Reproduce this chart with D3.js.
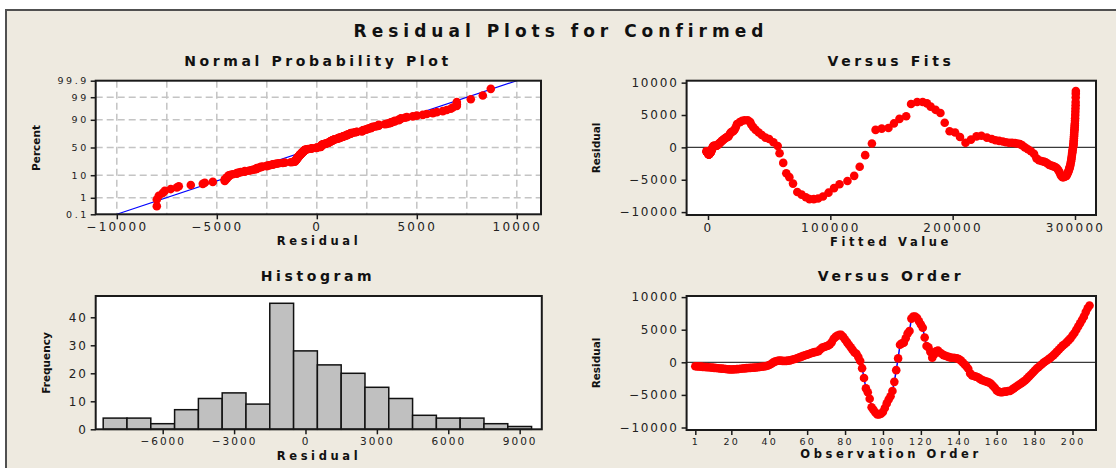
<!DOCTYPE html>
<html><head><meta charset="utf-8">
<script src="https://cdn.jsdelivr.net/npm/d3@7"></script>
<style>body{margin:0;background:#fff}svg{display:block}</style>
</head><body><svg id="c" width="1116" height="468"></svg>
<script>
// ---------- data ----------
const residuals = [
-600,-620,-650,-670,-700,-720,-740,-760,-790,-820,
-850,-880,-910,-940,-970,-1000,-1030,-1060,-1080,-1100,
-1090,-1070,-1050,-1020,-990,-960,-930,-900,-880,-860,
-840,-820,-790,-760,-720,-680,-640,-600,-520,-420,
-250,-50,100,200,250,250,220,200,220,260,
300,380,460,550,650,760,870,980,1080,1180,
1280,1380,1480,1560,1620,1700,2000,2250,2350,2450,
2550,2750,3100,3600,3900,4100,4200,4200,3900,3500,
3100,2700,2300,1900,1500,1300,800,200,-900,-2400,
-4000,-4600,-5600,-6900,-7300,-7700,-8000,-8000,-7900,-7600,
-7000,-6300,-5700,-5200,-4400,-3000,-1200,600,2700,2900,
3000,3700,4400,4800,6700,7000,7000,6800,6300,5800,
5300,3800,2500,2300,1600,700,1200,1700,1800,1500,
1300,1100,1000,900,800,700,700,650,600,500,
300,0,-300,-600,-1000,-1700,-2000,-2100,-2200,-2300,
-2500,-2700,-2800,-2900,-3000,-3100,-3300,-3600,-3900,-4300,
-4500,-4600,-4600,-4500,-4500,-4400,-4400,-4200,-4000,-3800,
-3600,-3400,-3200,-3000,-2800,-2500,-2200,-1900,-1600,-1300,
-1000,-750,-500,-250,0,200,400,600,850,1100,
1400,1700,2000,2300,2600,2800,3100,3400,3700,4100,
4500,5000,5500,6000,6500,7000,7700,8300,8700];
const fittedValues = [
-1200,-1100,-1000,-900,-800,-700,-600,-500,-400,-300,
-200,-100,0,100,200,300,400,500,600,700,
800,900,1000,1100,1200,1300,1400,1500,1600,1700,
1800,1900,2000,2100,2200,2300,2400,2600,2800,3000,
3300,3600,4000,4400,4800,5200,5600,6000,6400,6900,
7400,7900,8400,8900,9500,10100,10700,11300,11900,12500,
13200,13900,14600,15300,16000,16800,17600,18400,19200,20000,
20900,21800,22700,23700,26000,28000,30000,32500,34500,35500,
37000,39000,41500,44000,47000,50000,53500,57000,58500,61500,
64000,66500,69500,73000,76500,80000,83000,86500,90000,94000,
98500,103000,107500,114000,119500,124000,128500,134000,137000,142000,
147500,152000,156500,162000,166000,171000,175500,179000,182000,186000,
190000,193500,197500,202000,206000,210500,215000,219500,223500,228000,
232000,235000,238000,241000,243500,246000,248500,251000,253000,255000,
257000,259000,261500,264000,266500,268500,270500,272500,274500,276000,
277500,279000,280500,282000,283300,284500,285600,286600,287500,288400,
289200,289900,290600,291300,291900,292500,293000,293500,294000,294400,
294800,295200,295500,295800,296100,296400,296700,297000,297200,297400,
297600,297800,298000,298200,298400,298600,298700,298800,298900,299000,
299100,299200,299300,299400,299500,299600,299700,299800,299900,300000,
300100,300200,300300,300400,300500,300550,300600,300650,300700];
const histBinCenters = [-8000,-7000,-6000,-5000,-4000,-3000,-2000,-1000,0,1000,2000,3000,4000,5000,6000,7000,8000,9000];
const histCounts = [4,4,2,7,11,13,9,45,28,23,20,15,11,5,4,4,2,1];
const histBinWidth = 1000;
const probTicks = [0.1,1,10,50,90,99,99.9];
const probGrid = [1,10,50,90,99];
const normXTicks = [-10000,-5000,0,5000,10000];
const normXGrid = [-10000,-7500,-5000,-2500,0,2500,5000,7500,10000];
const normLineX = [-10000,10000];
const normLineP = [0.1,99.9];
const residTicks = [-10000,-5000,0,5000,10000];
const fitsXTicks = [0,100000,200000,300000];
const histXTicks = [-6000,-3000,0,3000,6000,9000];
const histYTicks = [0,10,20,30,40];
const orderXTicks = [1,20,40,60,80,100,120,140,160,180,200];

// ---------- helpers ----------
const FONT = '"DejaVu Sans", Verdana, sans-serif';
function qnorm(p){
  const a=[-3.969683028665376e+01,2.209460984245205e+02,-2.759285104469687e+02,1.383577518672690e+02,-3.066479806614716e+01,2.506628277459239e+00];
  const b=[-5.447609879822406e+01,1.615858368580409e+02,-1.556989798598866e+02,6.680131188771972e+01,-1.328068155288572e+01];
  const c=[-7.784894002430293e-03,-3.223964580411365e-01,-2.400758277161838e+00,-2.549732539343734e+00,4.374664141464968e+00,2.938163982698783e+00];
  const d=[7.784695709041462e-03,3.224671290700398e-01,2.445134137142996e+00,3.754408661907416e+00];
  const pl=0.02425, ph=1-pl; let q,r;
  if(p<pl){q=Math.sqrt(-2*Math.log(p));return (((((c[0]*q+c[1])*q+c[2])*q+c[3])*q+c[4])*q+c[5])/((((d[0]*q+d[1])*q+d[2])*q+d[3])*q+1);}
  if(p<=ph){q=p-0.5;r=q*q;return (((((a[0]*r+a[1])*r+a[2])*r+a[3])*r+a[4])*r+a[5])*q/(((((b[0]*r+b[1])*r+b[2])*r+b[3])*r+b[4])*r+1);}
  q=Math.sqrt(-2*Math.log(1-p));return -(((((c[0]*q+c[1])*q+c[2])*q+c[3])*q+c[4])*q+c[5])/((((d[0]*q+d[1])*q+d[2])*q+d[3])*q+1);
}
const svg = d3.select('#c');
svg.append('rect').attr('width',1116).attr('height',468).attr('fill','#fff');
svg.append('rect').attr('x',6).attr('y',10).attr('width',1110).attr('height',458).attr('fill','#EEEAE0');
svg.append('path').attr('d','M6,468V10H1116').attr('fill','none').attr('stroke','#505050').attr('stroke-width',2);

function text(x,y,s,size,ls,weight,anchor){
  return svg.append('text').attr('x',x).attr('y',y).text(s)
    .attr('font-family',FONT).attr('font-size',size).attr('letter-spacing',ls)
    .attr('font-weight',weight||'normal').attr('text-anchor',anchor||'middle').attr('fill','#111');
}
function vlabel(x,y,s){
  svg.append('text').attr('transform',`translate(${x},${y}) rotate(-90)`).text(s)
    .attr('font-family',FONT).attr('font-size',10.5).attr('font-weight','bold')
    .attr('text-anchor','middle').attr('fill','#111');
}
function panelBg(P){
  svg.append('rect').attr('x',P.l).attr('y',P.t).attr('width',P.r-P.l).attr('height',P.b-P.t).attr('fill','#fff');
}
function frame(P){
  svg.append('rect').attr('x',P.l).attr('y',P.t).attr('width',P.r-P.l).attr('height',P.b-P.t)
    .attr('fill','none').attr('stroke','#1a1a1a').attr('stroke-width',2);
}
function styleAxis(g,size,ls){
  g.attr('font-family',FONT);
  g.select('.domain').remove();
  g.selectAll('line').attr('stroke','#1a1a1a').attr('stroke-width',1.5);
  g.selectAll('text').attr('font-size',size).attr('letter-spacing',ls).attr('fill','#222');
}
function clip(id,P){
  svg.append('clipPath').attr('id',id).append('rect').attr('x',P.l).attr('y',P.t).attr('width',P.r-P.l).attr('height',P.b-P.t);
}

// ---------- title ----------
text(561,37,'Residual Plots for Confirmed',17,5,'bold');

// ---------- panel 1 : normal probability ----------
const P1 = {l:95.7, r:541, t:80.7, b:214.3};
panelBg(P1); clip('c1',P1);
const x1 = d3.scaleLinear().domain([-11055,11210]).range([P1.l,P1.r]);
const y1 = d3.scaleLinear().domain([qnorm(0.001),qnorm(0.999)]).range([P1.b,P1.t]);
const g1 = svg.append('g');
g1.selectAll('.vg').data(normXGrid).join('line').attr('x1',d=>x1(d)).attr('x2',d=>x1(d)).attr('y1',P1.t).attr('y2',P1.b)
  .attr('stroke','#c4c4c4').attr('stroke-width',1.5).attr('stroke-dasharray','7,4');
g1.selectAll('.hg').data(probGrid).join('line').attr('x1',P1.l).attr('x2',P1.r).attr('y1',d=>y1(qnorm(d/100))).attr('y2',d=>y1(qnorm(d/100)))
  .attr('stroke','#c4c4c4').attr('stroke-width',1.5).attr('stroke-dasharray','7,4');
g1.append('line').attr('clip-path','url(#c1)')
  .attr('x1',x1(normLineX[0])).attr('y1',y1(qnorm(normLineP[0]/100)))
  .attr('x2',x1(normLineX[1])).attr('y2',y1(qnorm(normLineP[1]/100)))
  .attr('stroke','#0000ff').attr('stroke-width',1.2);
const sorted = residuals.slice().sort((a,b)=>a-b);
const n = sorted.length;
g1.append('g').attr('clip-path','url(#c1)').selectAll('circle').data(sorted).join('circle')
  .attr('cx',d=>x1(d)).attr('cy',(d,i)=>y1(qnorm((i+1-0.3)/(n+0.4)))).attr('r',4.3).attr('fill','#ff0000');
frame(P1);
styleAxis(svg.append('g').attr('transform',`translate(0,${P1.b})`)
  .call(d3.axisBottom(x1).tickValues(normXTicks).tickSize(5).tickPadding(3).tickFormat(d3.format('d'))),12,2.3);
styleAxis(svg.append('g').attr('transform',`translate(${P1.l},0)`)
  .call(d3.axisLeft(y1).tickValues(probTicks.map(p=>qnorm(p/100))).tickSize(5).tickPadding(2).tickFormat((d,i)=>String(probTicks[i]))),9.5,2.5);
text(318,65.7,'Normal Probability Plot',14,3.6,'bold');
text(319,245,'Residual',11.5,3.6,'bold');
vlabel(40,148,'Percent');

// ---------- panel 2 : versus fits ----------
const P2 = {l:686.6, r:1096, t:80.7, b:215};
panelBg(P2); clip('c2',P2);
const x2 = d3.scaleLinear().domain([-17490,317170]).range([P2.l,P2.r]);
const y2 = d3.scaleLinear().domain([-10450,10300]).range([P2.b,P2.t]);
svg.append('line').attr('x1',P2.l).attr('x2',P2.r).attr('y1',y2(0)).attr('y2',y2(0)).attr('stroke','#3a3a3a').attr('stroke-width',1.3);
svg.append('g').attr('clip-path','url(#c2)').selectAll('circle').data(residuals).join('circle')
  .attr('cx',(d,i)=>x2(fittedValues[i])).attr('cy',d=>y2(d)).attr('r',4.3).attr('fill','#ff0000');
frame(P2);
styleAxis(svg.append('g').attr('transform',`translate(0,${P2.b})`)
  .call(d3.axisBottom(x2).tickValues(fitsXTicks).tickSize(5).tickPadding(3).tickFormat(d3.format('d'))),12,2.3);
styleAxis(svg.append('g').attr('transform',`translate(${P2.l},0)`)
  .call(d3.axisLeft(y2).tickValues(residTicks).tickSize(5).tickPadding(3).tickFormat(d3.format('d'))),12,1.8);
text(891,65.7,'Versus Fits',14,3.6,'bold');
text(891,246,'Fitted Value',11.5,3.6,'bold');
vlabel(600,148,'Residual');

// ---------- panel 3 : histogram ----------
const P3 = {l:95.7, r:541.8, t:296, b:429.3};
panelBg(P3);
const x3 = d3.scaleLinear().domain([-8815,9930]).range([P3.l,P3.r]);
const y3 = d3.scaleLinear().domain([0,47.6]).range([P3.b,P3.t]);
svg.append('g').selectAll('rect').data(histCounts).join('rect')
  .attr('x',(d,i)=>x3(histBinCenters[i]-histBinWidth/2)).attr('width',(d,i)=>x3(histBinCenters[i]+histBinWidth/2)-x3(histBinCenters[i]-histBinWidth/2))
  .attr('y',d=>y3(d)).attr('height',d=>y3(0)-y3(d))
  .attr('fill','#c0c0c0').attr('stroke','#111').attr('stroke-width',1.5);
frame(P3);
styleAxis(svg.append('g').attr('transform',`translate(0,${P3.b})`)
  .call(d3.axisBottom(x3).tickValues(histXTicks).tickSize(5).tickPadding(3).tickFormat(d3.format('d'))),10.5,2);
styleAxis(svg.append('g').attr('transform',`translate(${P3.l},0)`)
  .call(d3.axisLeft(y3).tickValues(histYTicks).tickSize(5).tickPadding(3).tickFormat(d3.format('d'))),12,1.8);
text(318,281,'Histogram',14,3.6,'bold');
text(319,460,'Residual',11.5,3.6,'bold');
vlabel(50,363,'Frequency');

// ---------- panel 4 : versus order ----------
const P4 = {l:686.6, r:1096, t:296, b:430};
panelBg(P4); clip('c4',P4);
const x4 = d3.scaleLinear().domain([-3.6,212.4]).range([P4.l,P4.r]);
const y4 = d3.scaleLinear().domain([-10383,10169]).range([P4.b,P4.t]);
svg.append('line').attr('x1',P4.l).attr('x2',P4.r).attr('y1',y4(0)).attr('y2',y4(0)).attr('stroke','#3a3a3a').attr('stroke-width',1.3);
const g4 = svg.append('g').attr('clip-path','url(#c4)');
g4.append('path').datum(residuals).attr('d',d3.line().x((d,i)=>x4(i+1)).y(d=>y4(d)))
  .attr('fill','none').attr('stroke','#0000ff').attr('stroke-width',1.5);
g4.selectAll('circle').data(residuals).join('circle')
  .attr('cx',(d,i)=>x4(i+1)).attr('cy',d=>y4(d)).attr('r',4.3).attr('fill','#ff0000');
frame(P4);
styleAxis(svg.append('g').attr('transform',`translate(0,${P4.b})`)
  .call(d3.axisBottom(x4).tickValues(orderXTicks).tickSize(5).tickPadding(3).tickFormat(d3.format('d'))),9.5,2.2);
styleAxis(svg.append('g').attr('transform',`translate(${P4.l},0)`)
  .call(d3.axisLeft(y4).tickValues(residTicks).tickSize(5).tickPadding(3).tickFormat(d3.format('d'))),12,1.8);
text(891,281,'Versus Order',14,3.6,'bold');
text(891,458,'Observation Order',11.5,3.6,'bold');
vlabel(600,363,'Residual');
</script></body></html>
